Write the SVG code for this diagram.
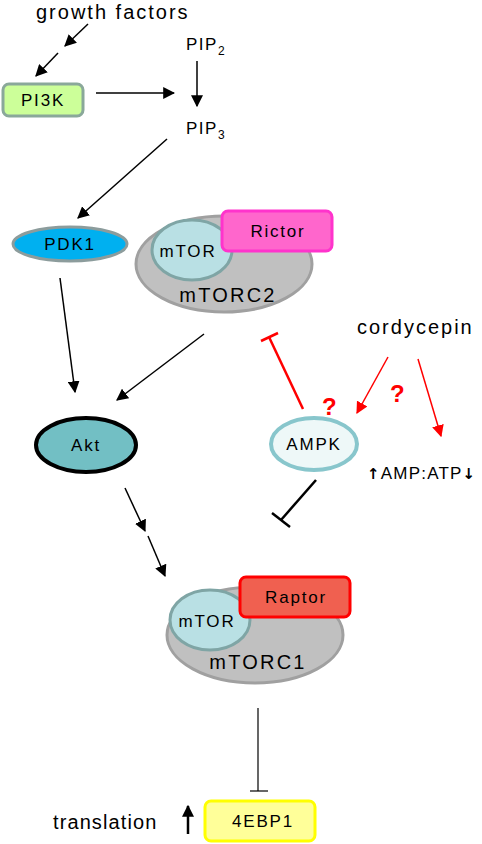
<svg xmlns="http://www.w3.org/2000/svg" width="482" height="844" viewBox="0 0 482 844">
<defs>
<marker id="ahb" viewBox="0 0 10 10" refX="9" refY="5" markerWidth="12" markerHeight="12" orient="auto" markerUnits="userSpaceOnUse">
<path d="M0,0 L10,5 L0,10 z" fill="#000"/>
</marker>
<marker id="ahr" viewBox="0 0 10 10" refX="9" refY="5" markerWidth="12" markerHeight="12" orient="auto" markerUnits="userSpaceOnUse">
<path d="M0,0 L10,5 L0,10 z" fill="#f00"/>
</marker>
</defs>
<style>
text{font-family:"Liberation Sans",Arial,sans-serif;fill:#000}
.lbl{font-size:20px;letter-spacing:2px}
.n{font-size:17px;letter-spacing:1.8px;text-anchor:middle}
.c{font-size:20px;letter-spacing:2.2px;text-anchor:middle}
.blk{stroke:#000;stroke-width:1.5;fill:none}
.cx{fill:#c0c0c0;stroke:#a0a0a0;stroke-width:3}
.mt{fill:#b9e0e4;stroke:#7fa5a5;stroke-width:3}
.q{font-size:24px;font-weight:bold;fill:#f00}
.ar{font-family:"DejaVu Sans",sans-serif;font-weight:bold}
</style>
<g id="growth-factors"><text class="lbl" x="36" y="19">growth factors</text></g>
<g id="PI3K"><rect x="3" y="84" width="80" height="32" rx="6" fill="#ccff99" stroke="#8aa89a" stroke-width="3"/><text class="n" x="43" y="106">PI3K</text></g>
<g id="PIP2"><text x="186" y="50" font-size="17" letter-spacing="1.5">PIP<tspan font-size="12" dy="5">2</tspan></text></g>
<g id="PIP3"><text x="186" y="134" font-size="17" letter-spacing="1.5">PIP<tspan font-size="12" dy="5">3</tspan></text></g>
<g id="PDK1"><ellipse cx="70" cy="244" rx="57" ry="17" fill="#00b0f0" stroke="#8c9c9c" stroke-width="3"/><text class="n" x="70" y="250">PDK1</text></g>
<g id="mTORC2"><ellipse class="cx" cx="224" cy="264" rx="88" ry="48"/><ellipse class="mt" cx="192" cy="250" rx="40" ry="30"/><rect x="222" y="211" width="110" height="40" rx="6" fill="#ff66cc" stroke="#ff33cc" stroke-width="3"/><text class="n" x="278" y="237">Rictor</text><text class="n" x="188" y="257">mTOR</text><text class="c" x="228" y="302">mTORC2</text></g>
<g id="Akt"><ellipse cx="86" cy="445" rx="50" ry="27" fill="#72bfc4" stroke="#000" stroke-width="4"/><text class="n" x="86" y="451">Akt</text></g>
<g id="cordycepin"><text class="lbl" x="357" y="334">cordycepin</text></g>
<g id="AMPK"><ellipse cx="314" cy="444" rx="43" ry="26" fill="#eef8f8" stroke="#88c6cc" stroke-width="4"/><text class="n" x="314" y="450">AMPK</text></g>
<g id="AMP-ATP"><text x="367" y="479" font-size="17" letter-spacing="1.2"><tspan class="ar" font-size="15">↑</tspan>AMP:ATP<tspan class="ar" font-size="15">↓</tspan></text></g>
<g id="mTORC1"><ellipse class="cx" cy="635" cx="255" rx="88" ry="48"/><ellipse class="mt" cx="210" cy="620" rx="40" ry="30"/><rect x="240" y="577" width="110" height="40" rx="6" fill="#f06050" stroke="#ff0000" stroke-width="3"/><text class="n" x="296" y="603">Raptor</text><text class="n" x="207" y="627">mTOR</text><text class="c" x="258" y="669">mTORC1</text></g>
<g id="EBP1"><rect x="205" y="801" width="110" height="40" rx="6" fill="#ffff99" stroke="#ffff00" stroke-width="3"/><text class="n" x="263" y="827">4EBP1</text></g>
<g id="translation"><text x="53" y="829" style="font-size:20px;letter-spacing:1.1px">translation</text></g>
<g id="questions"><text class="q" x="322" y="415">?</text><text class="q" x="390" y="402">?</text></g>
<g id="connectors">
<line class="blk" x1="88" y1="24" x2="65" y2="46" marker-end="url(#ahb)"/>
<line class="blk" x1="58" y1="53" x2="36" y2="76" marker-end="url(#ahb)"/>
<line class="blk" x1="96" y1="93" x2="174" y2="93" marker-end="url(#ahb)"/>
<line class="blk" x1="197" y1="61" x2="197" y2="106" marker-end="url(#ahb)"/>
<line class="blk" x1="167" y1="139" x2="78" y2="218" marker-end="url(#ahb)"/>
<line class="blk" x1="60" y1="278" x2="75" y2="392" marker-end="url(#ahb)"/>
<line class="blk" x1="204" y1="334" x2="117" y2="400" marker-end="url(#ahb)"/>
<line class="blk" x1="125" y1="488" x2="145" y2="531" marker-end="url(#ahb)"/>
<line class="blk" x1="148" y1="536" x2="165" y2="576" marker-end="url(#ahb)"/>
<line x1="303" y1="409" x2="269" y2="337" stroke="#f00" stroke-width="2.5"/>
<line x1="261" y1="341" x2="278" y2="333" stroke="#f00" stroke-width="2.5"/>
<line x1="388" y1="357" x2="357" y2="413" stroke="#f00" stroke-width="1.5" marker-end="url(#ahr)"/>
<line x1="418" y1="359" x2="441" y2="436" stroke="#f00" stroke-width="1.5" marker-end="url(#ahr)"/>
<line x1="316" y1="480" x2="281" y2="520" stroke="#000" stroke-width="2.5"/>
<line x1="272" y1="513" x2="290" y2="527" stroke="#000" stroke-width="2.5"/>
<line x1="258" y1="708" x2="258" y2="791" stroke="#000" stroke-width="1.2"/>
<line x1="250" y1="791" x2="268" y2="791" stroke="#000" stroke-width="1.2"/>
<line x1="188" y1="834" x2="188" y2="806" stroke="#000" stroke-width="2.5" marker-end="url(#ahb)"/>
</g>
</svg>
